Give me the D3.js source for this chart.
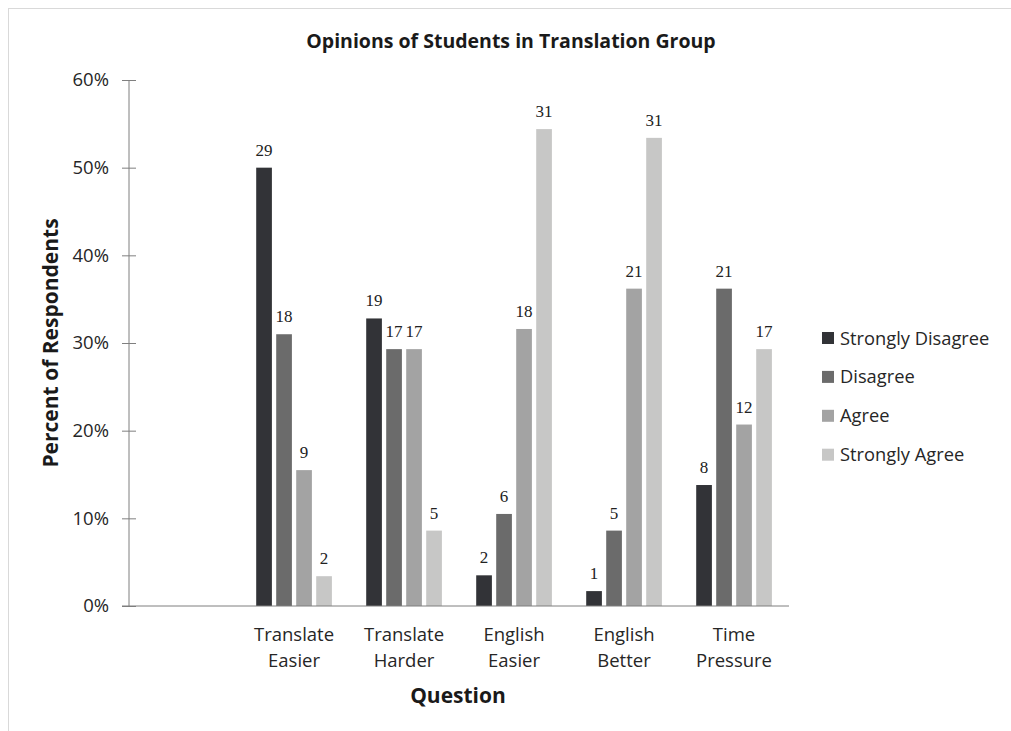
<!DOCTYPE html>
<html><head><meta charset="utf-8">
<script src="https://cdn.jsdelivr.net/npm/d3@7"></script>
<style>body{margin:0;background:#fff;} svg{display:block;}</style>
</head><body>
<script>
const categories = ["", "Translate\nEasier", "Translate\nHarder", "English\nEasier", "English\nBetter", "Time\nPressure"];
const seriesNames = ["Strongly Disagree", "Disagree", "Agree", "Strongly Agree"];
// counts per question (first category empty)
const stronglyDisagree = [null, 29, 19, 2, 1, 8];
const disagree = [null, 18, 17, 6, 5, 21];
const agree = [null, 9, 17, 18, 21, 12];
const stronglyAgree = [null, 2, 5, 31, 31, 17];
// percent of respondents
const stronglyDisagreePct = [null, 50.0, 32.8, 3.5, 1.7, 13.8];
const disagreePct = [null, 31.0, 29.3, 10.5, 8.6, 36.2];
const agreePct = [null, 15.5, 29.3, 31.6, 36.2, 20.7];
const stronglyAgreePct = [null, 3.4, 8.6, 54.4, 53.4, 29.3];
const yTicks = [0, 10, 20, 30, 40, 50, 60];
const colors = ["#323337", "#6b6b6b", "#a3a3a3", "#c7c7c6"];

const counts = [stronglyDisagree, disagree, agree, stronglyAgree];
const pcts = [stronglyDisagreePct, disagreePct, agreePct, stronglyAgreePct];

const W = 1011, H = 731;
const svg = d3.select("body").append("svg").attr("width", W).attr("height", H);
const sans = "'Open Sans', 'Noto Sans', sans-serif";

// outer frame
svg.append("rect").attr("x", 8.5).attr("y", 8.5).attr("width", 1100).attr("height", 1000)
  .attr("fill", "none").attr("stroke", "#d9d9d9").attr("stroke-width", 1);

const x = d3.scaleBand().domain(d3.range(categories.length)).range([129, 789]).padding(0);
const xs = d3.scaleBand().domain(d3.range(seriesNames.length)).range([17.2, 92.9]).paddingInner(0.215).paddingOuter(0);
const y = d3.scaleLinear().domain([0, 60]).range([606, 80]);

// title
svg.append("text").attr("x", 511).attr("y", 48).attr("text-anchor", "middle")
  .attr("font-family", sans).attr("font-weight", "bold").attr("font-size", 19.5).attr("fill", "#1a1a1a")
  .text("Opinions of Students in Translation Group");

// bars
seriesNames.forEach((s, si) => {
  const data = d3.range(categories.length).filter(i => pcts[si][i] != null)
    .map(i => ({i, p: pcts[si][i], c: counts[si][i]}));
  svg.append("g").selectAll("rect").data(data).join("rect")
    .attr("x", d => x(d.i) + xs(si))
    .attr("width", xs.bandwidth())
    .attr("y", d => y(d.p))
    .attr("height", d => y(0) - y(d.p))
    .attr("fill", colors[si]);
  svg.append("g").selectAll("text").data(data).join("text")
    .attr("x", d => x(d.i) + xs(si) + xs.bandwidth() / 2)
    .attr("y", d => y(d.p) - 12)
    .attr("text-anchor", "middle")
    .attr("font-family", "'Liberation Serif', 'DejaVu Serif', serif")
    .attr("font-size", 17).attr("fill", "#222")
    .text(d => d.c);
});

// y axis
const yAxis = svg.append("g").attr("transform", "translate(129,0)")
  .call(d3.axisLeft(y).tickValues(yTicks).tickFormat(d => d + "%").tickSize(7).tickPadding(13));
yAxis.select(".domain").attr("stroke", "#7f7f7f").attr("d", `M0,${y(60)}V${y(0)}`);
yAxis.selectAll(".tick line").attr("stroke", "#7f7f7f").attr("x1", 7).attr("x2", -7);
yAxis.selectAll(".tick text").attr("font-family", sans).attr("font-size", 18.5).attr("fill", "#262626");

// x axis
const xAxis = svg.append("g").attr("transform", `translate(0,${y(0)})`)
  .call(d3.axisBottom(x).tickSize(0).tickFormat(""));
xAxis.select(".domain").attr("stroke", "#7f7f7f").attr("d", `M122,0H789`);
xAxis.selectAll(".tick").each(function(d) {
  const lines = categories[d].split("\n");
  const t = d3.select(this).append("text").attr("fill", "#262626")
    .attr("font-family", sans).attr("font-size", 18.5).attr("text-anchor", "middle");
  lines.forEach((l, k) => t.append("tspan").attr("x", 0).attr("y", 35 + k * 25.5).text(l));
});

// axis titles
svg.append("text").attr("transform", "translate(58,343) rotate(-90)").attr("text-anchor", "middle")
  .attr("font-family", sans).attr("font-weight", "bold").attr("font-size", 21).attr("fill", "#1a1a1a")
  .text("Percent of Respondents");
svg.append("text").attr("x", 458).attr("y", 703).attr("text-anchor", "middle")
  .attr("font-family", sans).attr("font-weight", "bold").attr("font-size", 21).attr("fill", "#1a1a1a")
  .text("Question");

// legend
const lg = svg.append("g").selectAll("g").data(seriesNames).join("g")
  .attr("transform", (d, i) => `translate(822,${338 + i * 38.9})`);
lg.append("rect").attr("x", 0).attr("y", -6).attr("width", 12).attr("height", 12)
  .attr("fill", (d, i) => colors[i]);
lg.append("text").attr("x", 18).attr("y", 6.5).attr("font-family", sans).attr("font-size", 18.3)
  .attr("fill", "#262626").text(d => d);
</script>
</body></html>
